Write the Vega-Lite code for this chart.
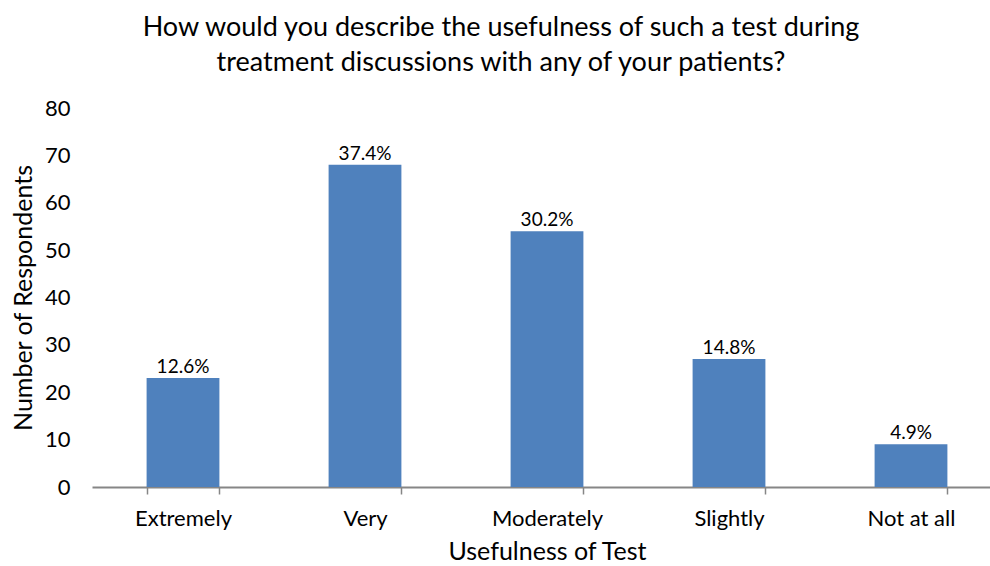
{
  "$schema": "https://vega.github.io/schema/vega-lite/v6.json",
  "width": 910,
  "height": 379,
  "padding": {"left": 11, "top": 14, "right": 0, "bottom": 5},
  "background": "white",
  "config": {"view": {"stroke": null}, "font": "Lato"},
  "title": {
    "text": ["How would you describe the usefulness of such a test during", "treatment discussions with any of your patients?"],
    "font": "Lato",
    "fontSize": 27,
    "fontWeight": "normal",
    "color": "#000000",
    "anchor": "middle",
    "frame": "group",
    "dx": -46,
    "lineHeight": 35,
    "offset": 20
  },
  "data": {
    "values": [
      {"usefulness": "Extremely", "count": 23, "pct": "12.6%"},
      {"usefulness": "Very", "count": 68, "pct": "37.4%"},
      {"usefulness": "Moderately", "count": 54, "pct": "30.2%"},
      {"usefulness": "Slightly", "count": 27, "pct": "14.8%"},
      {"usefulness": "Not at all", "count": 9, "pct": "4.9%"}
    ]
  },
  "encoding": {
    "x": {
      "field": "usefulness",
      "type": "nominal",
      "sort": null,
      "scale": {"paddingInner": 0.6, "paddingOuter": 0.3},
      "axis": {
        "title": "Usefulness of Test",
        "titleFont": "Lato",
        "titleFontSize": 25,
        "titleFontWeight": "normal",
        "titleColor": "#000000",
        "titlePadding": 10,
        "labelFont": "Lato",
        "labelFontSize": 22,
        "labelColor": "#000000",
        "labelAngle": 0,
        "labelPadding": 14,
        "tickBand": "extent",
        "tickSize": 7,
        "tickColor": "#868686",
        "domainColor": "#868686",
        "domainWidth": 2,
        "tickWidth": 1.5
      }
    },
    "y": {
      "field": "count",
      "type": "quantitative",
      "scale": {"domain": [0, 80]},
      "axis": {
        "title": "Number of Respondents",
        "titleFont": "Lato",
        "titleFontSize": 25,
        "titleFontWeight": "normal",
        "titleColor": "#000000",
        "titlePadding": 8,
        "values": [0, 10, 20, 30, 40, 50, 60, 70, 80],
        "labelFont": "Lato",
        "labelFontSize": 22,
        "labelColor": "#000000",
        "labelPadding": 22,
        "ticks": false,
        "domain": false,
        "grid": false
      }
    }
  },
  "layer": [
    {"mark": {"type": "bar", "color": "#4F81BD"}},
    {
      "mark": {"type": "text", "baseline": "bottom", "dy": -1, "fontSize": 19, "color": "#000000", "font": "Lato"},
      "encoding": {"text": {"field": "pct"}}
    }
  ]
}
